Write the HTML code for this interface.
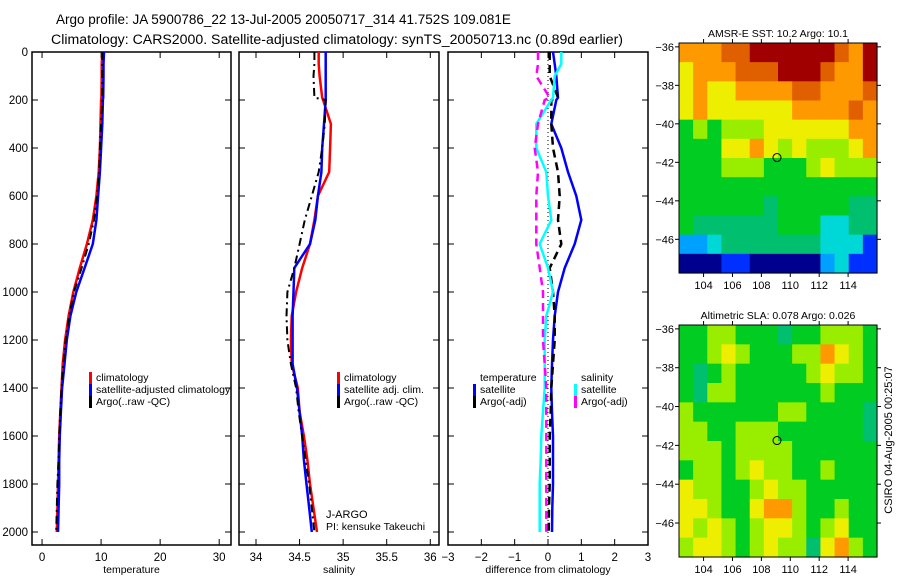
<!DOCTYPE html>
<html><head><meta charset="utf-8"><style>
html,body{margin:0;padding:0;background:#fff}
svg{display:block}
text{font-family:"Liberation Sans",sans-serif;fill:#000}
</style></head><body>
<svg id="fig" width="900" height="580" viewBox="0 0 900 580" xmlns="http://www.w3.org/2000/svg">
<text x="56" y="24" font-size="13.5">Argo profile: JA 5900786_22 13-Jul-2005 20050717_314 41.752S 109.081E</text>
<text x="51" y="44" font-size="13.5" textLength="572" lengthAdjust="spacingAndGlyphs">Climatology: CARS2000. Satellite-adjusted climatology: synTS_20050713.nc (0.89d earlier)</text>
<g id="g"></g>
</svg>
<script>
// ---- profile data ----
const depths=[0,50,100,190,200,300,400,500,600,700,800,900,1000,1100,1200,1300,1400,1500,1600,1700,1800,1900,2000];
const tempClim=[10.2,10.1,10.1,10.05,10.0,9.9,9.8,9.6,9.2,8.6,7.6,6.4,5.3,4.5,3.9,3.5,3.3,3.1,2.9,2.8,2.7,2.6,2.5];
const tempSat=[10.5,10.4,10.4,10.35,10.3,10.2,10.0,9.8,9.5,9.2,8.6,7.2,5.8,4.8,4.2,3.8,3.4,3.2,3.0,2.9,2.9,2.8,2.7];
const tempArgo=[10.2,10.2,10.2,10.2,10.2,10.0,9.8,9.7,9.3,8.8,7.9,6.7,5.4,4.6,4.0,3.6,3.3,3.1,2.9,2.8,2.6,2.5,2.4];
const salClim=[34.72,34.72,34.73,34.76,34.77,34.86,34.85,34.84,34.71,34.67,34.62,34.53,34.46,34.41,34.40,34.41,34.48,34.50,34.55,34.59,34.62,34.66,34.70];
const salSat=[34.80,34.80,34.80,34.80,34.80,34.78,34.76,34.75,34.71,34.68,34.62,34.44,34.43,34.42,34.42,34.42,34.47,34.50,34.53,34.55,34.58,34.61,34.64];
const salArgo=[34.67,34.67,34.66,34.67,34.80,34.79,34.76,34.72,34.64,34.56,34.50,34.44,34.36,34.35,34.36,34.40,34.46,34.49,34.53,34.57,34.61,34.64,34.67];
const diffTempSat=[0.15,0.2,0.25,0.3,0.25,0.1,0.4,0.6,0.85,1.0,0.8,0.5,0.3,0.2,0.15,0.12,0.1,0.12,0.15,0.15,0.15,0.13,0.12];
const diffTempArgo=[0.05,0.05,0.05,0.3,0.1,0.1,0.15,0.3,0.35,0.3,0.4,0.05,0.15,0.2,0.2,0.15,0.1,0.08,0.05,0.05,0.05,0.03,0.02];
const diffSalSat=[0.4,0.4,0.2,0.15,0.1,-0.35,-0.35,-0.05,0.0,0.1,-0.25,0.0,0.15,-0.05,-0.1,-0.1,-0.1,-0.15,-0.2,-0.22,-0.25,-0.25,-0.25];
const diffSalArgo=[-0.3,-0.3,-0.35,0.05,-0.1,-0.3,-0.4,-0.3,-0.35,-0.35,-0.35,-0.25,-0.15,-0.15,-0.15,-0.1,-0.05,-0.05,-0.05,-0.05,-0.05,-0.05,-0.05];
const depthTicks=[0,200,400,600,800,1000,1200,1400,1600,1800,2000];
const tempTicks=[0,10,20,30];
const salTicks=[34,34.5,35,35.5,36];
const diffTicks=[-3,-2,-1,0,1,2,3];
// ---- map data (colour index 0 navy .. 10 dark red), rows north->south ----
const mapLons=[104,106,108,110,112,114];
const mapLats=[-36,-38,-40,-42,-44,-46];
const sstGrid=[
[8,8,8,9,9,10,10,10,10,10,10,9,8,10],
[7,8,8,8,9,9,9,10,10,10,9,8,8,10],
[7,8,7,7,8,8,8,8,9,9,8,8,8,9],
[7,8,7,7,7,7,7,7,8,8,8,8,9,8],
[5,6,5,6,6,6,7,7,7,7,7,7,8,8],
[5,5,5,7,7,8,7,6,7,6,6,6,7,8],
[5,5,5,6,6,6,5,5,5,6,7,6,6,6],
[5,5,5,5,5,5,5,5,5,5,5,5,5,5],
[5,5,5,5,5,5,4,5,5,5,5,5,4,4],
[5,4,4,4,4,4,4,5,5,5,3,3,4,4],
[2,2,3,4,4,4,4,4,4,4,3,3,3,1],
[0,0,0,1,1,0,0,0,0,0,2,3,1,1]];
const slaGrid=[
[5,5,6,6,5,5,5,4,5,5,6,6,6,5],
[5,5,6,7,6,5,5,5,6,6,8,7,6,5],
[5,4,5,6,5,5,5,5,5,6,7,6,6,5],
[5,4,6,6,5,5,5,5,5,5,6,5,5,5],
[6,5,5,5,5,5,5,6,6,5,5,5,5,4],
[6,6,5,5,6,6,6,5,5,5,5,5,5,4],
[6,6,6,5,6,6,6,6,5,5,5,5,5,5],
[5,6,6,5,6,7,6,6,5,5,6,5,5,5],
[7,6,6,5,5,6,7,6,6,5,5,5,5,5],
[7,7,6,5,5,7,8,8,6,5,5,6,5,5],
[7,6,7,6,5,6,7,7,6,5,6,7,5,5],
[6,7,7,6,5,6,7,6,6,4,7,8,6,5]];
const argoLon=109.081, argoLat=-41.752;
const cmap=['#00008f','#0030ff','#00a0ff','#00d8d8','#00c070','#00cc22','#99ee00','#eeee00','#ff9900','#e06000','#a00000'];

const NS='http://www.w3.org/2000/svg';
const G=document.getElementById('g');
function el(tag,attrs,parent){const e=document.createElementNS(NS,tag);for(const k in attrs)e.setAttribute(k,attrs[k]);(parent||G).appendChild(e);return e;}
function txt(s,x,y,attrs,parent){const t=el('text',Object.assign({x:x,y:y,'font-size':11.5},attrs||{}),parent);t.textContent=s;return t;}

const yDepth=d=>52+d*0.24;
function panel(name,x0,x1,xmin,xmax,xticks,xlabel,showYLabels,fmt){
  const g=el('g',{});
  
  
  const sx=v=>x0+(v-xmin)/(xmax-xmin)*(x1-x0);
  const r=el('rect',{x:x0,y:52,width:x1-x0,height:493,fill:'none',stroke:'#000','stroke-width':1.5},g);
  
  
  depthTicks.forEach(d=>{
    const y=yDepth(d);
    el('line',{x1:x0,x2:x0+6,y1:y,y2:y,stroke:'#000'},g);
    el('line',{x1:x1-6,x2:x1,y1:y,y2:y,stroke:'#000'},g);
    if(showYLabels){const t=txt(String(d),28,y+4,{'text-anchor':'end'},g);
      
      }
  });
  xticks.forEach(v=>{
    const x=sx(v);
    el('line',{x1:x,x2:x,y1:52,y2:58,stroke:'#000'},g);
    el('line',{x1:x,x2:x,y1:539,y2:545,stroke:'#000'},g);
    const t=txt(fmt(v),x,561,{'text-anchor':'middle'},g);
    
    
  });
  const xl=txt(xlabel,(x0+x1)/2,573,{'text-anchor':'middle','font-size':10.5},g);
  
  
  return {g,sx};
}
function series(p,vals,color,dash,name,w){
  const pts=vals.map((v,i)=>p.sx(v).toFixed(1)+','+yDepth(depths[i]).toFixed(1)).join(' ');
  const l=el('polyline',{points:pts,fill:'none',stroke:color,'stroke-width':w||2.5,'stroke-dasharray':dash||'none'},p.g);
  
  
}
function legend(p,x,y,items){
  items.forEach((it,i)=>{
    const yy=y+i*12;
    if(it[1]){const b=el('rect',{x:x,y:yy-9,width:3,height:12,fill:it[1]},p.g);
      
      }
    const t=txt(it[0],x+7,yy,{'font-size':10.5},p.g);
    
    
  });
}
const fmtPlain=v=>String(v);
const fmtMinus=v=>v<0?'\u2212'+Math.abs(v):String(v);

// temperature panel
const pT=panel('temperature-panel',32,231,-1.7,32,tempTicks,'temperature',true,fmtPlain);
series(pT,tempClim,'#ff0000',null,'temp-climatology-line');
series(pT,tempSat,'#0000ff',null,'temp-satellite-line');
series(pT,tempArgo,'#000000','8,4,2,4','temp-argo-line',2);
legend(pT,89,381,[['climatology','#f00'],['satellite-adjusted climatology','#00f'],['Argo(..raw -QC)','#000']]);

// salinity panel
const pS=panel('salinity-panel',239,439,33.805,36.1,salTicks,'salinity',false,fmtPlain);
series(pS,salClim,'#ff0000',null,'sal-climatology-line');
series(pS,salSat,'#0000ff',null,'sal-satellite-line');
series(pS,salArgo,'#000000','8,4,2,4','sal-argo-line',2);
legend(pS,337,381,[['climatology','#f00'],['satellite adj. clim.','#00f'],['Argo(..raw -QC)','#000']]);
const j1=txt('J-ARGO',326,518,{'font-size':11},pS.g);


const j2=txt('PI: kensuke Takeuchi',326,530,{'font-size':10.5},pS.g);



// difference panel
const pD=panel('difference-panel',448,648,-3,3,diffTicks,'difference from climatology',false,fmtMinus);
const zl=el('line',{x1:pD.sx(0),x2:pD.sx(0),y1:52,y2:545,stroke:'#000','stroke-dasharray':'1,3'},pD.g);


series(pD,diffTempSat,'#0000ff',null,'diff-temp-satellite-line');
series(pD,diffTempArgo,'#000000','8,5','diff-temp-argo-line');
series(pD,diffSalSat,'#00ffff',null,'diff-sal-satellite-line');
series(pD,diffSalArgo,'#ff00ff','8,5','diff-sal-argo-line');
legend(pD,473,381,[['temperature',null],['satellite','#00f'],['Argo(-adj)','#000']]);
legend(pD,574,381,[['salinity',null],['satellite','#0ff'],['Argo(-adj)','#f0f']]);

// maps
function map(name,grid,y0,y1,latTop,latBot,title){
  const g=el('g',{});
  
  
  const x0=679,x1=877,lonL=102.3,lonR=116.0;
  const sx=v=>x0+(v-lonL)/(lonR-lonL)*(x1-x0);
  const sy=v=>y0+(latTop-v)/(latTop-latBot)*(y1-y0);
  const rows=grid.length, cols=grid[0].length;
  const dLon=(lonR-lonL)/cols, dLat=(latTop-latBot)/rows;
  grid.forEach((row,r)=>row.forEach((v,c)=>{
    const xa=sx(lonL+c*dLon), xb=sx(lonL+(c+1)*dLon);
    const ya=sy(latTop-r*dLat), yb=sy(latTop-(r+1)*dLat);
    const cell=el('rect',{x:xa.toFixed(2),y:ya.toFixed(2),width:(xb-xa+0.6).toFixed(2),height:(yb-ya+0.6).toFixed(2),fill:cmap[v]},g);
    
    
  }));
  const fr=el('rect',{x:x0,y:y0,width:x1-x0,height:y1-y0,fill:'none',stroke:'#000'},g);
  
  
  mapLons.forEach(v=>{const x=sx(v);
    el('line',{x1:x,x2:x,y1:y0-4,y2:y0,stroke:'#000'},g);
    el('line',{x1:x,x2:x,y1:y1,y2:y1+4,stroke:'#000'},g);
    const t=txt(String(v),x,y1+16,{'text-anchor':'middle','font-size':11},g);
    
    });
  mapLats.forEach(v=>{const y=sy(v);
    el('line',{x1:x0-4,x2:x0,y1:y,y2:y,stroke:'#000'},g);
    el('line',{x1:x1,x2:x1+4,y1:y,y2:y,stroke:'#000'},g);
    const t=txt(fmtMinus(v),674,y+4,{'text-anchor':'end','font-size':11},g);
    
    });
  const c=el('circle',{cx:sx(argoLon),cy:sy(argoLat),r:4,fill:'none',stroke:'#000','stroke-width':1},g);
  
  
  const t=txt(title,(x0+x1)/2,y0-6,{'text-anchor':'middle','font-size':10.5},g);
  
  
}
map('sst-map',sstGrid,43,273,-35.8,-47.75,'AMSR-E SST: 10.2 Argo: 10.1');
map('sla-map',slaGrid,325,557,-35.8,-47.75,'Altimetric SLA: 0.078 Argo: 0.026');
const cs=txt('CSIRO 04-Aug-2005 00:25:07',0,0,{'text-anchor':'middle','font-size':11,transform:'translate(892,440) rotate(-90)'});


</script>
</body></html>
